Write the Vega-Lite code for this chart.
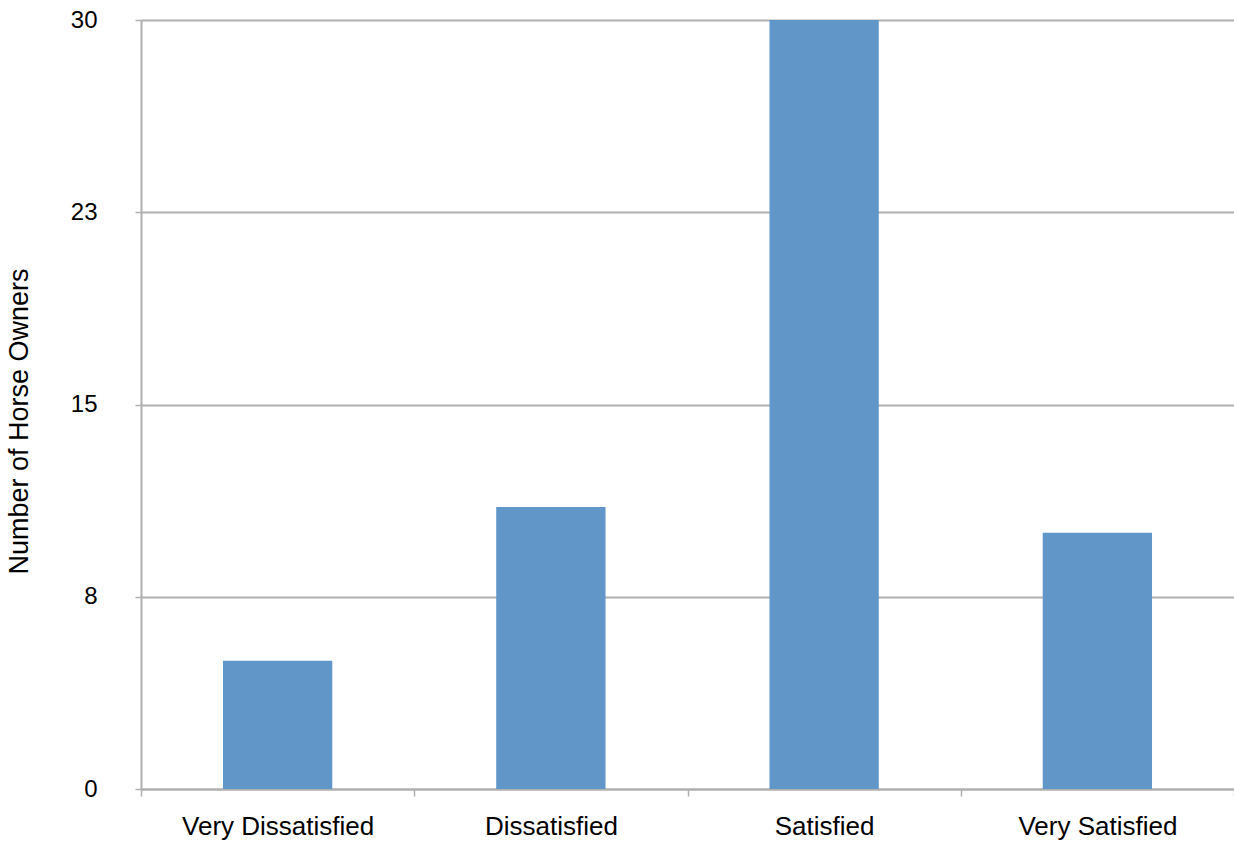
{
  "$schema": "https://vega.github.io/schema/vega-lite/v6.json",
  "width": 1093,
  "height": 769,
  "autosize": {"type": "none"},
  "padding": {"left": 141, "top": 20, "right": 0, "bottom": 53},
  "background": "white",
  "config": {
    "view": {"stroke": null},
    "font": "Liberation Sans"
  },
  "data": {
    "values": [
      {"category": "Very Dissatisfied", "count": 5},
      {"category": "Dissatisfied", "count": 11},
      {"category": "Satisfied", "count": 30},
      {"category": "Very Satisfied", "count": 10}
    ]
  },
  "mark": {"type": "bar", "color": "#6096C8", "width": {"band": 0.4}},
  "encoding": {
    "x": {
      "field": "category",
      "type": "nominal",
      "sort": null,
      "scale": {"paddingInner": 0, "paddingOuter": 0},
      "axis": {
        "title": null,
        "labelAngle": 0,
        "labelFontSize": 26,
        "labelLimit": 0,
        "labelColor": "#000000",
        "labelPadding": 17,
        "tickBand": "extent",
        "tickSize": 7,
        "tickColor": "#b0b0b0",
        "tickWidth": 1.5,
        "domainColor": "#b0b0b0",
        "domainWidth": 2,
        "grid": false
      }
    },
    "y": {
      "field": "count",
      "type": "quantitative",
      "scale": {"domain": [0, 30], "nice": false},
      "axis": {
        "title": "Number of Horse Owners",
        "titleFontSize": 27,
        "titleFontWeight": "normal",
        "titleColor": "#000000",
        "titlePadding": 37,
        "titleY": 401,
        "values": [0, 7.5, 15, 22.5, 30],
        "format": ".0f",
        "labelFontSize": 24,
        "labelColor": "#000000",
        "labelPadding": 38,
        "tickSize": 6,
        "tickColor": "#b0b0b0",
        "tickWidth": 1.5,
        "domainColor": "#b0b0b0",
        "domainWidth": 2,
        "grid": true,
        "gridColor": "#b0b0b0",
        "gridWidth": 2
      }
    }
  }
}
